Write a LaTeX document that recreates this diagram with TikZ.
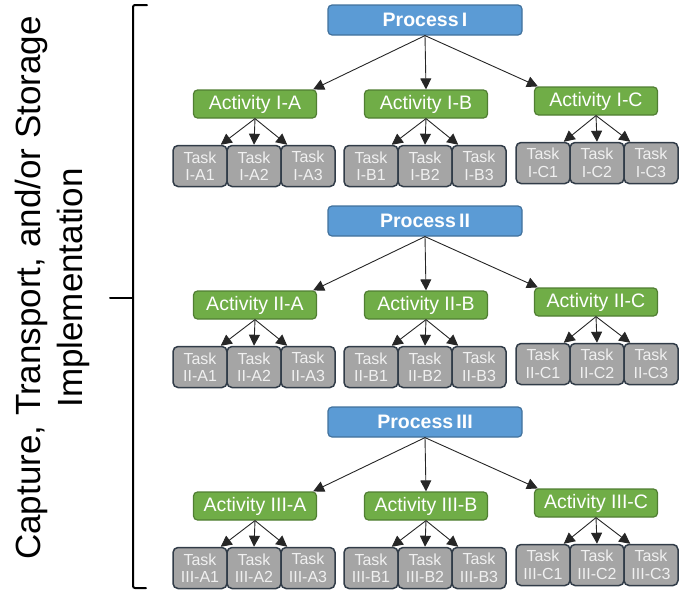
\documentclass[tikz,border=0pt]{standalone}
\usepackage{fontspec}
\setmainfont{Liberation Sans}
\usetikzlibrary{arrows.meta}

\definecolor{procfill}{HTML}{5B9BD5}
\definecolor{procedge}{HTML}{41719C}
\definecolor{actfill}{HTML}{70AD47}
\definecolor{actedge}{HTML}{507E32}
\definecolor{taskfill}{HTML}{A5A5A5}
\definecolor{taskedge}{HTML}{313C48}
\definecolor{tasktext}{HTML}{F0F0F0}

\begin{document}
\begin{tikzpicture}[x=1pt,y=-1pt,
  procbox/.style={draw=procedge, fill=procfill, line width=1.2pt, rounded corners=4pt,
    minimum width=194pt, minimum height=30pt, inner sep=0pt, text=white,
    font=\fontsize{19.5}{21}\selectfont\bfseries},
  actbox/.style={draw=actedge, fill=actfill, line width=1.2pt, rounded corners=4pt,
    minimum width=123pt, minimum height=28pt, inner sep=0pt, text=white,
    font=\fontsize{19.5}{21}\selectfont},
  taskbox/.style={draw=taskedge, fill=taskfill, line width=1.5pt, rounded corners=5pt,
    minimum width=54pt, minimum height=41pt, inner sep=0pt, text=tasktext, align=center,
    font=\fontsize{16}{17.5}\selectfont},
  link/.style={draw=black!85, line width=0.9pt, -{Triangle[length=11pt,width=11pt]}},
  brace/.style={line width=2pt, line cap=round, rounded corners=2pt},
]
\useasboundingbox (0,0) rectangle (679,590);

% vertical caption
\node[rotate=90, align=center, inner sep=0pt, font=\fontsize{35}{42}\selectfont]
  (title) at (52,288) {Capture, Transport, and/or Storage\\Implementation};

% bracket grouping the three processes
\coordinate (btop) at (147,5);
\coordinate (bbot) at (146,588);
\coordinate (bmid) at (133,298);
\coordinate (btip) at (110,298);
\draw[brace] (btop) -- (133,5) -- (133,588) -- (bbot);
\draw[brace] (btip) -- (bmid);

% process / activity / task hierarchy
\foreach \r/\k in {I/0,II/1,III/2}{
  \pgfmathsetmacro{\dy}{201*\k}
  \node[procbox] (p\r) at (425,{20+\dy}) {Process\,\r};
  \foreach \c/\ax/\ay/\tx/\ty in {A/255/104/200/166, B/426/104/371/166, C/596/101/543/163}{
    \node[actbox] (a\r\c) at (\ax,{\ay+\dy}) {Activity \r-\c};
    \node[taskbox] (t\r\c1) at (\tx,{\ty+\dy}) {Task\\\r-\c1};
    \node[taskbox] (t\r\c2) at ({\tx+54},{\ty+\dy}) {Task\\\r-\c2};
    \node[taskbox] (t\r\c3) at ({\tx+108},{\ty+\dy}) {Task\\\r-\c3};
    \draw[link] (a\r\c.south) -- ([xshift=-7pt]t\r\c1.north east);
    \draw[link] (a\r\c.south) -- (t\r\c2.north);
    \draw[link] (a\r\c.south) -- ([xshift=7pt]t\r\c3.north west);
  }
  \draw[link] (p\r.south) -- ([xshift=-4pt]a\r A.north east);
  \draw[link] (p\r.south) -- (a\r B.north);
  \draw[link] (p\r.south) -- ([xshift=4pt]a\r C.north west);
}
\end{tikzpicture}
\end{document}
